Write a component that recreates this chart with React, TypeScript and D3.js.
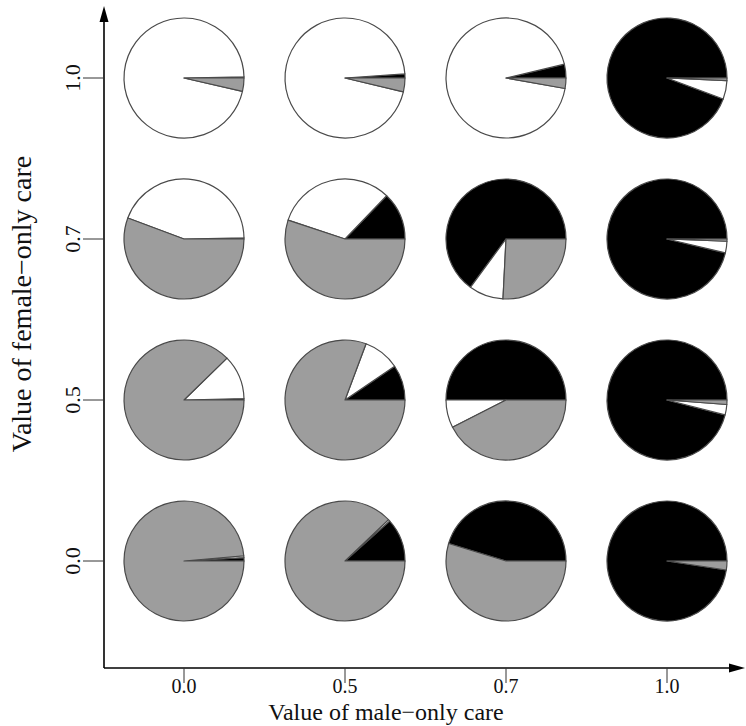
import React from 'react';
import * as d3 from 'd3';

// male-only care on x, female-only care on y (top row first)
const maleLevels = ['0.0', '0.5', '0.7', '1.0'];
const femaleLevels = ['1.0', '0.7', '0.5', '0.0'];

// share of each outcome per cell, rows follow femaleLevels, columns maleLevels
const blackShare = [
  [0.003, 0.011, 0.037, 0.943],
  [0.003, 0.128, 0.649, 0.963],
  [0.004, 0.095, 0.5, 0.96],
  [0.009, 0.116, 0.453, 0.976],
];
const whiteShare = [
  [0.961, 0.952, 0.935, 0.05],
  [0.44, 0.321, 0.093, 0.031],
  [0.119, 0.098, 0.075, 0.028],
  [0.005, 0.005, 0.0, 0.0],
];
const greyShare = [
  [0.036, 0.037, 0.028, 0.007],
  [0.557, 0.551, 0.258, 0.006],
  [0.877, 0.807, 0.425, 0.012],
  [0.986, 0.879, 0.547, 0.024],
];

const sliceColors = ['#000000', '#ffffff', '#9d9d9d'];

const App = () => {
  const width = 746, height = 726;
  const axisX = 104, axisY = 668;
  const radius = 60;
  const serif = "'Liberation Serif', 'Times New Roman', serif";

  const xScale = d3.scalePoint().domain(maleLevels).range([184, 667]);
  const yScale = d3.scalePoint().domain(femaleLevels).range([78, 561]);

  // R-style pie: start at 3 o'clock, counter-clockwise
  const pie = d3.pie<number>().sort(null).value(d => d)
    .startAngle(Math.PI / 2).endAngle(Math.PI / 2 - 2 * Math.PI);
  const arc = d3.arc<d3.PieArcDatum<number>>().innerRadius(0).outerRadius(radius);

  const cells = [];
  femaleLevels.forEach((f, i) => {
    maleLevels.forEach((m, j) => {
      cells.push({
        key: f + '-' + m,
        cx: xScale(m),
        cy: yScale(f),
        slices: pie([blackShare[i][j], whiteShare[i][j], greyShare[i][j]]),
      });
    });
  });

  return (<svg xmlns="http://www.w3.org/2000/svg" width={width} height={height}
      style={{position: 'absolute', left: 0, top: 0, background: '#fff'}}>
    {
      cells.map(c => (
        <g key={c.key} transform={`translate(${c.cx}, ${c.cy})`}>
          {c.slices.map((s, k) => s.value > 0 &&
            <path key={k} d={arc(s)} fill={sliceColors[k]} stroke="#4a4a4a" strokeWidth={1.2} strokeLinejoin="round" />)}
        </g>
      ))
    }
    {/* axes with arrows */}
    <g stroke="#000" strokeWidth={1.6} fill="none">
      <line x1={axisX} y1={axisY} x2={axisX} y2={18} />
      <line x1={axisX} y1={axisY} x2={735} y2={axisY} />
    </g>
    <path d={`M${axisX},6L${axisX - 4.5},22L${axisX + 4.5},22Z`} fill="#000" />
    <path d={`M745,${axisY}L729,${axisY - 4.5}L729,${axisY + 4.5}Z`} fill="#000" />
    <g style={{fontFamily: serif}} fontSize="20" textAnchor="middle" fill="#111">
      {maleLevels.map(m => (
        <g key={m} transform={`translate(${xScale(m)}, ${axisY})`}>
          <line y2="15" stroke="#333" strokeWidth={1} />
          <text y="25">{m}</text>
        </g>
      ))}
    </g>
    <g style={{fontFamily: serif}} fontSize="22" textAnchor="middle" fill="#111">
      {femaleLevels.map(f => (
        <g key={f} transform={`translate(${axisX}, ${yScale(f)})`}>
          <line x2="-21" stroke="#333" strokeWidth={1} />
          <text transform="translate(-24, 0) rotate(-90)">{f}</text>
        </g>
      ))}
    </g>
    <text x={386} y={720} style={{fontFamily: serif}} fontSize="24" textAnchor="middle" fill="#111">Value of male−only care</text>
    <text transform="translate(31, 304) rotate(-90)" style={{fontFamily: serif}} fontSize="28" textAnchor="middle" fill="#111">Value of female−only care</text>
  </svg>);
};

export default App;
